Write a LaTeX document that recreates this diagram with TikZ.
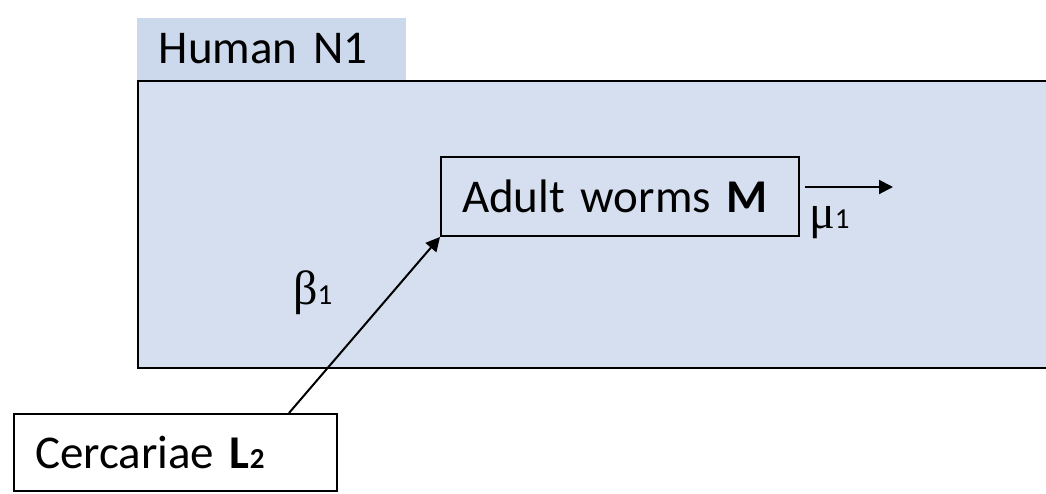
\documentclass[tikz,border=0pt]{standalone}
\usepackage{fontspec}
\setmainfont{Carlito}[WordSpace=0.7]
\newfontfamily\greekfont{Liberation Serif}
\usetikzlibrary{positioning,arrows.meta}

\definecolor{hostblue}{RGB}{214,223,239}
\definecolor{tabblue}{RGB}{204,217,236}

\newcommand{\bigtext}{\fontsize{47}{52}\selectfont}
\newcommand{\idx}[1]{{\fontsize{29}{30}\selectfont #1}}
\newcommand{\greek}[1]{{\greekfont\fontsize{48}{52}\selectfont #1}}

\begin{document}
\begin{tikzpicture}
[x=1pt, y=-1pt,
 host/.style={draw, line width=2.5pt, fill=hostblue, minimum width=928pt, minimum height=287pt, inner sep=0pt},
 hosttab/.style={fill=tabblue, anchor=south west, minimum height=62pt, inner xsep=22pt, text width=225pt, align=left, font=\bigtext},
 stage/.style={draw, line width=2pt, minimum height=79pt, inner xsep=21pt, align=left, font=\bigtext},
 rate/.style={anchor=base west, inner sep=0pt},
 flow/.style={line width=2pt, -{Triangle[length=14pt,width=14pt]}}]
\useasboundingbox (0,0) rectangle (1046,493);

% host compartment and its label
\node [host] (human) at (602,224.5) {};
\node [hosttab] (tab) at (human.north west) {Human N1};

% parasite stages
\node [stage, text width=316pt] (worms) at (620,196.5) {Adult worms \textbf{M}};
\node [stage, fill=white, text width=281pt, minimum height=77pt] (cerc) at (175.5,452.5) {Cercariae \textbf{L\idx{2}}};

% infection and death
\coordinate (death) at (893,187);
\draw [flow] ([xshift=-49pt]cerc.north east) -- (worms.south west);
\draw [flow] ([xshift=5pt,yshift=9.5pt]worms.east) -- (death);

\node [rate] (beta) at (293,304) {\greek{β}\idx{1}};
\node [rate] (mu) at (809,228) {\greek{μ}\idx{1}};
\end{tikzpicture}
\end{document}
